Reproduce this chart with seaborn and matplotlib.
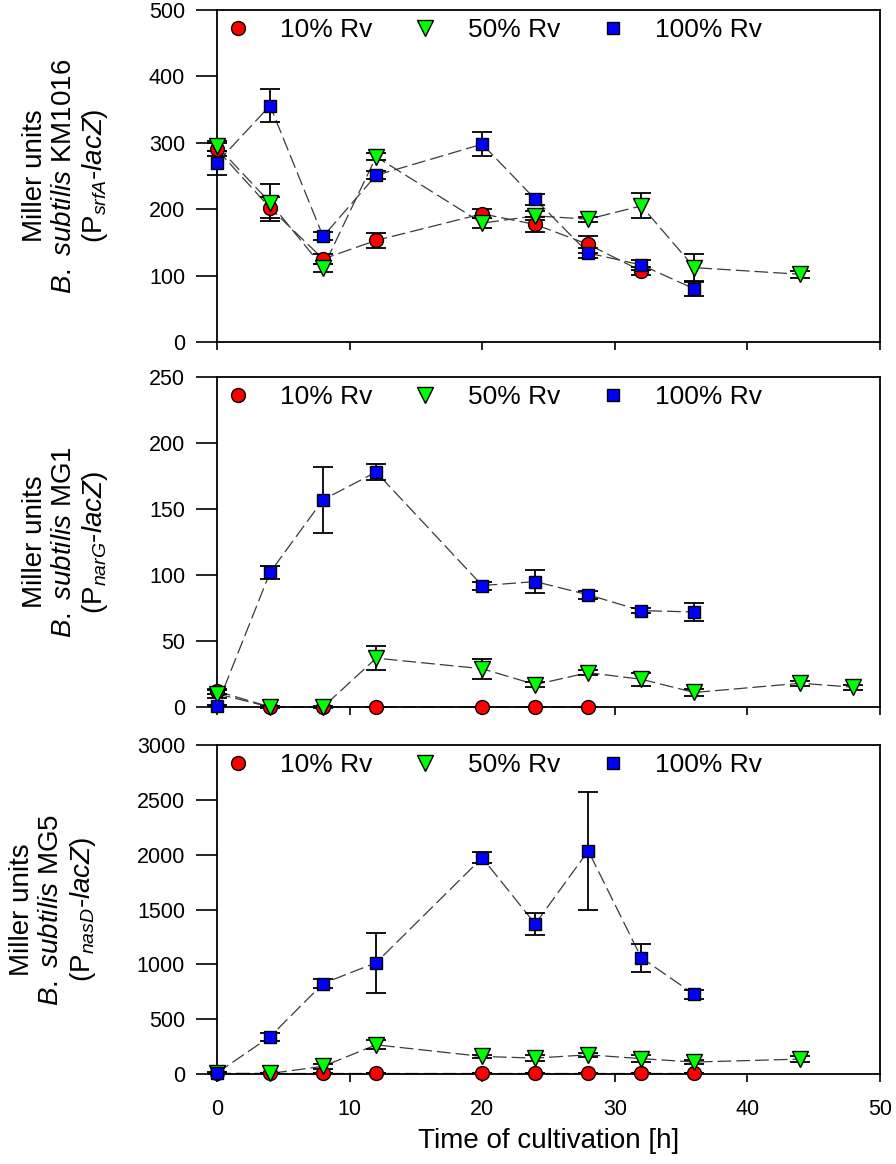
import numpy as np
import pandas as pd
import matplotlib
matplotlib.use("Agg")
import matplotlib.pyplot as plt
import seaborn as sns
from matplotlib.lines import Line2D

sns.set_theme(style="ticks")
plt.rcParams['font.family'] = ['Liberation Sans', 'DejaVu Sans']
plt.rcParams['mathtext.fontset'] = 'custom'
plt.rcParams['mathtext.rm'] = 'Liberation Sans'
plt.rcParams['mathtext.it'] = 'Liberation Sans:italic'
plt.rcParams['mathtext.bf'] = 'Liberation Sans:bold'
plt.rcParams['axes.edgecolor'] = 'black'
plt.rcParams['axes.labelcolor'] = 'black'
plt.rcParams['text.color'] = 'black'
plt.rcParams['xtick.color'] = 'black'
plt.rcParams['ytick.color'] = 'black'

series_names = ["10% Rv", "50% Rv", "100% Rv"]

# ---- Panel 1: KM1016 (PsrfA-lacZ)
top_x_10 = [0, 4, 8, 12, 20, 24, 28, 32]
top_y_10 = [290, 202, 125, 153, 193, 177, 147, 107]
top_e_10 = [10, 16, 7, 11, 7, 12, 13, 6]
top_x_50 = [0, 4, 8, 12, 20, 24, 28, 32, 36, 44]
top_y_50 = [295, 210, 112, 279, 179, 190, 185, 205, 112, 102]
top_e_50 = [8, 28, 6, 5, 8, 7, 4, 19, 20, 5]
top_x_100 = [0, 4, 8, 12, 20, 24, 28, 32, 36]
top_y_100 = [270, 356, 159, 251, 298, 215, 134, 116, 80]
top_e_100 = [18, 25, 6, 6, 18, 8, 8, 7, 10]

# ---- Panel 2: MG1 (PnarG-lacZ)
mid_x_10 = [0, 4, 8, 12, 20, 24, 28]
mid_y_10 = [12, 0, 0, 0, 0, 0, 0]
mid_e_10 = [2, 0, 0, 0, 0, 0, 0]
mid_x_50 = [0, 4, 8, 12, 20, 24, 28, 32, 36, 44, 48]
mid_y_50 = [10, 0, 0, 37, 29, 17, 26, 21, 11, 18, 15]
mid_e_50 = [3, 0.5, 0.5, 9, 7.5, 2, 2, 5, 3, 2, 2]
mid_x_100 = [0, 4, 8, 12, 20, 24, 28, 32, 36]
mid_y_100 = [1, 102, 157, 178, 92, 95, 85, 73, 72]
mid_e_100 = [0.5, 5, 25, 6, 3, 9, 3, 2, 7]

# ---- Panel 3: MG5 (PnasD-lacZ)
bot_x_10 = [0, 4, 8, 12, 20, 24, 28, 32, 36]
bot_y_10 = [5, 5, 5, 5, 5, 5, 5, 5, 5]
bot_e_10 = [0, 0, 0, 0, 0, 0, 0, 0, 0]
bot_x_50 = [0, 4, 8, 12, 20, 24, 28, 32, 36, 44]
bot_y_50 = [5, 5, 70, 266, 160, 145, 175, 140, 109, 136]
bot_e_50 = [3, 3, 20, 40, 15, 30, 20, 35, 15, 30]
bot_x_100 = [0, 4, 8, 12, 20, 24, 28, 32, 36]
bot_y_100 = [10, 340, 825, 1015, 1972, 1368, 2035, 1060, 725]
bot_e_100 = [5, 38, 45, 275, 50, 97, 535, 128, 40]

x_ticks = [0, 10, 20, 30, 40, 50]
top_yticks = [0, 100, 200, 300, 400, 500]
mid_yticks = [0, 50, 100, 150, 200, 250]
bot_yticks = [0, 500, 1000, 1500, 2000, 2500, 3000]

ylabels = [
    "Miller units\n$\\mathit{B.\\ subtilis}$ KM1016\n(P$_{\\mathit{srfA}}$-$\\mathit{lacZ}$)",
    "Miller units\n$\\mathit{B.\\ subtilis}$ MG1\n(P$_{\\mathit{narG}}$-$\\mathit{lacZ}$)",
    "Miller units\n$\\mathit{B.\\ subtilis}$ MG5\n(P$_{\\mathit{nasD}}$-$\\mathit{lacZ}$)",
]

colors = {"10% Rv": "#FF0000", "50% Rv": "#00FF00", "100% Rv": "#0000FF"}
markers = {"10% Rv": "o", "50% Rv": "v", "100% Rv": "s"}
msize = {"10% Rv": 10, "50% Rv": 11, "100% Rv": 9}


def make_df(xs, ys, es):
    frames = []
    for name, x, y, e in zip(series_names, xs, ys, es):
        frames.append(pd.DataFrame({"time": x, "value": y, "err": e, "series": name}))
    return pd.concat(frames, ignore_index=True)


panels = [
    (make_df([top_x_10, top_x_50, top_x_100], [top_y_10, top_y_50, top_y_100],
             [top_e_10, top_e_50, top_e_100]), top_yticks),
    (make_df([mid_x_10, mid_x_50, mid_x_100], [mid_y_10, mid_y_50, mid_y_100],
             [mid_e_10, mid_e_50, mid_e_100]), mid_yticks),
    (make_df([bot_x_10, bot_x_50, bot_x_100], [bot_y_10, bot_y_50, bot_y_100],
             [bot_e_10, bot_e_50, bot_e_100]), bot_yticks),
]

W, H = 896, 1164
fig = plt.figure(figsize=(W / 100, H / 100), dpi=100)
boxes = [(10, 342), (377, 707), (745, 1074)]
left_px, right_px = 217, 880

for i, ((df, yt), (t_px, b_px)) in enumerate(zip(panels, boxes)):
    ax = fig.add_axes([left_px / W, 1 - b_px / H, (right_px - left_px) / W, (b_px - t_px) / H])
    for name in series_names:
        d = df[df.series == name]
        ax.errorbar(d.time, d.value, yerr=d.err, fmt='none', ecolor='black',
                    elinewidth=1.3, capsize=7, capthick=1.3, zorder=2, clip_on=False)
    for name in series_names:
        d = df[df.series == name]
        sns.lineplot(data=d, x="time", y="value", ax=ax, color='#3a3a3a',
                     linewidth=0.9, linestyle=(0, (11, 4)), zorder=1.5,
                     estimator=None, sort=False, clip_on=False)
        ax.plot(d.time, d.value, linestyle='none', marker=markers[name],
                markersize=msize[name], markerfacecolor=colors[name],
                markeredgecolor='black', markeredgewidth=1.0, zorder=3, clip_on=False)
    ax.set_xlim(0, 50)
    ax.set_ylim(yt[0], yt[-1])
    ax.set_xticks(x_ticks)
    ax.set_yticks(yt)
    ax.grid(False)
    for sp in ax.spines.values():
        sp.set_visible(True)
        sp.set_color('black')
        sp.set_linewidth(1.3)
    ax.tick_params(axis='y', direction='out', length=15, width=1.2, pad=8, labelsize=15.5)
    ax.tick_params(axis='x', direction='out', length=6, width=1.2, pad=12, labelsize=15.5)
    ax.set_ylabel(ylabels[i], fontsize=20, linespacing=1.15, labelpad=28)
    if i < 2:
        ax.set_xticklabels([])
        ax.set_xlabel("")
    else:
        ax.set_xlabel("Time of cultivation [h]", fontsize=20, labelpad=6)
    handles = [Line2D([], [], linestyle='none', marker=markers[n], markersize=msize[n],
                      markerfacecolor=colors[n], markeredgecolor='black',
                      markeredgewidth=1.0) for n in series_names]
    ax.legend(handles, series_names, loc='upper left', bbox_to_anchor=(0.0, 1.0),
              ncol=3, frameon=False, fontsize=19, handlelength=1.0,
              handletextpad=1.1, columnspacing=1.5, borderaxespad=0.1, borderpad=0.2)

fig.savefig("out.png", dpi=100)
